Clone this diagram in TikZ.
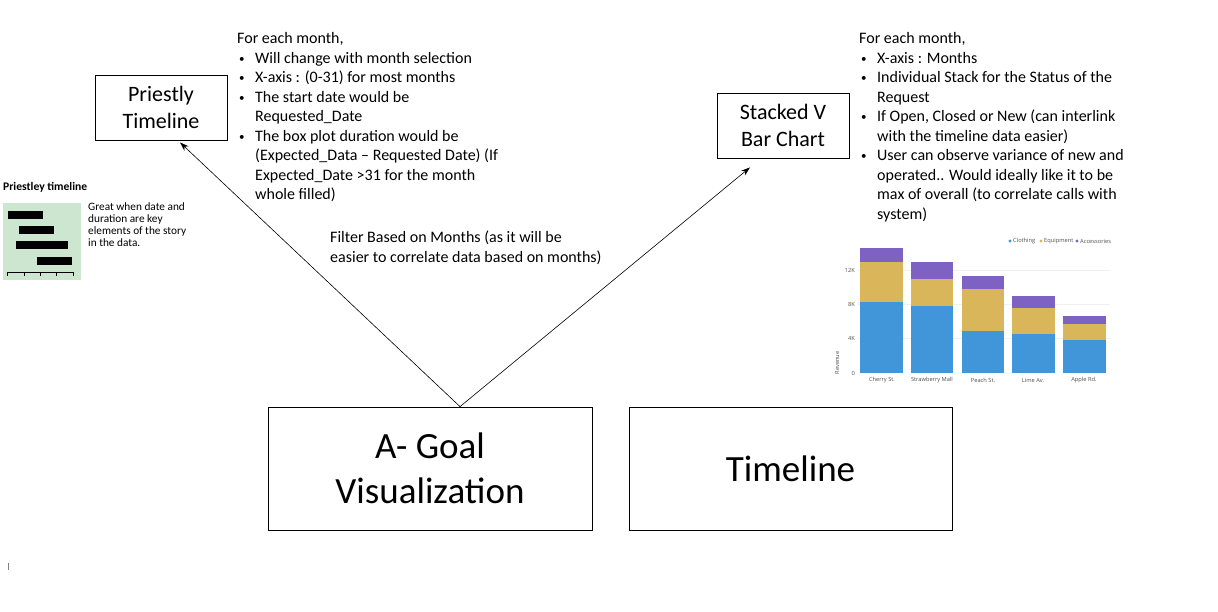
\documentclass[tikz,border=0pt]{standalone}
\usepackage{fontspec}
\setmainfont{Carlito}
\newfontfamily\chartfont{Open Sans}
\usetikzlibrary{arrows.meta,calc}
\definecolor{thumbgreen}{RGB}{205,230,208}
\definecolor{cblue}{RGB}{65,150,218}
\definecolor{cyellow}{RGB}{217,182,90}
\definecolor{cpurple}{RGB}{125,98,195}
\definecolor{ctext}{RGB}{80,80,80}
\newcommand{\bul}{\makebox[18pt][l]{\hspace{2pt}\raisebox{1.2pt}{\fontsize{11}{11}\selectfont •}}}
\newcommand{\ind}{\hspace*{18pt}}
\begin{document}
\begin{tikzpicture}[x=1pt,y=-1pt,
  box/.style={draw, line width=0.8pt, inner sep=0pt, align=center},
  conn/.style={-{Stealth[length=9pt,width=6pt]}, line width=0.6pt},
  body/.style={font=\fontsize{16}{19.5}\selectfont, align=left, inner sep=0pt, anchor=north west},
  catlabel/.style={font=\chartfont\fontsize{5.7}{6}\selectfont, text=ctext, inner sep=0pt},
  axlabel/.style={font=\chartfont\fontsize{5.7}{6}\selectfont, text=ctext, inner sep=0pt, anchor=east}]
\useasboundingbox (0,0) rectangle (1218,611);
\fill[white] (0,0) rectangle (1218,611);

% main boxes
\node[box, minimum width=132pt, minimum height=65pt, font=\fontsize{22}{27}\selectfont] (prie) at (161,107.5) {Priestly\\Timeline};
\node[box, minimum width=132pt, minimum height=65pt, font=\fontsize{22}{27}\selectfont] (stack) at (783,125.5) {Stacked V\\Bar Chart};
\node[box, minimum width=324pt, minimum height=123pt, font=\fontsize{37}{45}\selectfont] (goal) at (430,468.5) {A- Goal\\Visualization};
\node[box, minimum width=323pt, minimum height=123pt, font=\fontsize{37}{45}\selectfont] (timeline) at (790.5,468.5) {Timeline};

% connectors
\coordinate (gtop) at ($(goal.north)+(30,0)$);
\coordinate (ptip) at ($(prie.south)+(19,2)$);
\coordinate (stip) at ($(stack.south)+(-33,9)$);
\draw[conn] (gtop) -- (ptip);
\draw[conn] (gtop) -- (stip);

% texts
\node[body] (ltext) at (237,32.5) {For each month,\\
\bul Will change with month selection\\
\bul X-axis : (0-31) for most months\\
\bul The start date would be\\
\ind Requested\_Date\\
\bul The box plot duration would be\\
\ind (Expected\_Data – Requested Date) (If\\
\ind Expected\_Date >31 for the month\\
\ind whole filled)};

\node[body] (rtext) at (859,32.5) {For each month,\\
\bul X-axis : Months\\
\bul Individual Stack for the Status of the\\
\ind Request\\
\bul If Open, Closed or New (can interlink\\
\ind with the timeline data easier)\\
\bul User can observe variance of new and\\
\ind operated.. Would ideally like it to be\\
\ind max of overall (to correlate calls with\\
\ind system)};

\node[body] (filter) at (330,231) {Filter Based on Months (as it will be\\easier to correlate data based on months)};

% Priestley thumbnail
\node[font=\bfseries\fontsize{11.6}{12}\selectfont, anchor=west, inner sep=0pt] (ptitle) at (3,187) {Priestley timeline};
\fill[thumbgreen] (3,203) rectangle (81,280);
\fill[black] (8,211) rectangle (43,219);
\fill[black] (19,226) rectangle (54,234);
\fill[black] (16,241) rectangle (68,249);
\fill[black] (37,257) rectangle (72,265);
\draw[line width=0.9pt] (7,272) -- (73,272);
\foreach \t in {7,24,40,56,73} \draw[line width=0.9pt] (\t,272) -- (\t,275.5);
\node[font=\fontsize{11.3}{12.2}\selectfont, align=left, inner sep=0pt, anchor=north west] (ptext) at (88,202) {Great when date and\\duration are key\\elements of the story\\in the data.};

% stacked bar chart
\foreach \g in {270,304,338} \draw[gray!12, line width=0.4pt] (858,\g) -- (1110,\g);
\foreach \xa/\xb/\bt/\yt/\pt in {860/903/302/262/248, 911/953/306/279/262, 962/1004/331/289/276, 1012/1055/334/308/296, 1063/1106/340/324/316}{
  \fill[cblue] (\xa,373) rectangle (\xb,\bt);
  \fill[cyellow] (\xa,\bt) rectangle (\xb,\yt);
  \fill[cpurple] (\xa,\yt) rectangle (\xb,\pt);
}
\node[axlabel] (l12) at (855,270) {12K};
\node[axlabel] (l8) at (855,304) {8K};
\node[axlabel] (l4) at (855,338) {4K};
\node[axlabel] (l0) at (855,373) {0};
\node[catlabel, rotate=90] (rev) at (837,363) {Revenue};
\node[catlabel] (c1) at (882,380) {Cherry St.};
\node[catlabel] (c2) at (932,380) {Strawberry Mall};
\node[catlabel] (c3) at (983,380) {Peach St.};
\node[catlabel] (c4) at (1033,380) {Lime Av.};
\node[catlabel] (c5) at (1084,380) {Apple Rd.};
\fill[cblue] (1010,241) circle (1.6pt);
\node[catlabel, anchor=west] (lg1) at (1013,241) {Clothing};
\fill[cyellow] (1041,241) circle (1.6pt);
\node[catlabel, anchor=west] (lg2) at (1044,241) {Equipment};
\fill[cpurple] (1077,241) circle (1.6pt);
\node[catlabel, anchor=west] (lg3) at (1080,241) {Accessories};

% small mark
\draw[gray, line width=0.5pt] (8,563) -- (8,570);
\end{tikzpicture}
\end{document}
